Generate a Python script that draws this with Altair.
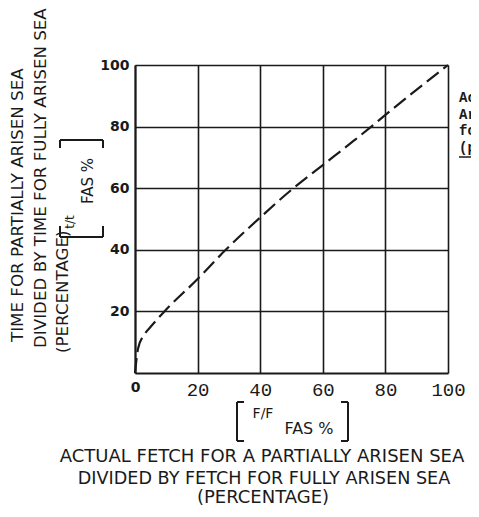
import altair as alt
import pandas as pd

# ---- data ----
fetch_pct = [0, 1, 3, 5, 9.4, 20, 28.5, 40, 50, 60, 70, 75.5, 80, 90, 100]
time_pct = [0, 8, 12.5, 15, 20, 30.5, 39.5, 50.5, 59.5, 67.5, 75.5, 80, 83.8, 92, 100]
x_ticks = [0, 20, 40, 60, 80, 100]
y_ticks = [20, 40, 60, 80, 100]
x_title = ["ACTUAL FETCH FOR A PARTIALLY ARISEN SEA",
           "DIVIDED BY FETCH FOR FULLY ARISEN SEA",
           "(PERCENTAGE)"]
y_title = ["TIME FOR PARTIALLY ARISEN SEA",
           "DIVIDED BY TIME FOR FULLY ARISEN SEA",
           "(PERCENTAGE)"]
side_text = ["Ac", "Ar", "fo", "(p"]

W, H = 313, 308
INK = "#1a1a1a"

df = pd.DataFrame({"F": fetch_pct, "T": time_pct})

curve = alt.Chart(df).mark_line(
    color=INK, strokeWidth=2.2, strokeDash=[15, 6], interpolate="monotone"
).encode(
    x=alt.X("F:Q", scale=alt.Scale(domain=[0, 100], nice=False),
            axis=alt.Axis(values=x_ticks, title=None, grid=True, gridColor=INK,
                          gridWidth=1.6, gridOpacity=1, ticks=False, domain=True,
                          domainColor=INK, domainWidth=2, labelFlush=False,
                          labelFont={"condition": {"test": "datum.value == 0", "value": "DejaVu Sans"},
                                     "value": "Liberation Mono"},
                          labelFontWeight={"condition": {"test": "datum.value == 0", "value": "bold"},
                                           "value": "normal"},
                          labelFontSize={"condition": {"test": "datum.value == 0", "value": 14},
                                         "value": 19},
                          labelColor=INK, labelPadding=7, labelBaseline="top")),
    y=alt.Y("T:Q", scale=alt.Scale(domain=[0, 100], nice=False),
            axis=alt.Axis(values=y_ticks, title=None, grid=True, gridColor=INK,
                          gridWidth=1.6, gridOpacity=1, ticks=False, domain=True,
                          domainColor=INK, domainWidth=2, labelFlush=False,
                          labelFont="DejaVu Sans", labelFontWeight="bold",
                          labelFontSize=14, labelColor=INK, labelPadding=6)),
)

one = alt.Data(values=[{}])


def txt(s, x, y, size, font="DejaVu Sans", angle=0, align="center", weight="normal"):
    kw = dict(text=s, fontSize=size, font=font, align=align, baseline="middle",
              fontWeight=weight, color=INK)
    if angle:
        kw["angle"] = angle
    return alt.Chart(one).mark_text(**kw).encode(x=alt.value(x), y=alt.value(y))


def seg(x1, y1, x2, y2, w=2):
    return alt.Chart(one).mark_rule(color=INK, strokeWidth=w).encode(
        x=alt.value(x1), y=alt.value(y1), x2=alt.value(x2), y2=alt.value(y2))


layers = [curve]

# x title lines
for line, xx, yy, fs in zip(x_title, [127, 129, 128], [392, 414, 433], [18, 17.6, 18]):
    layers.append(txt(line, xx, yy, fs))

# y title lines (rotated)
for line, xx, yy in zip(y_title, [-117, -94, -72], [277, 283, 288]):
    layers.append(txt(line, xx, yy, 16.7, angle=270, align="left"))

# x bracket label
layers += [
    seg(102, 337, 102, 376), seg(102, 337, 109, 337), seg(102, 376, 109, 376),
    seg(213, 337, 213, 376), seg(206, 337, 213, 337), seg(206, 376, 213, 376),
    txt("F/F", 128, 349, 14),
    txt("FAS %", 174, 364, 16),
]

# y bracket label
layers += [
    seg(-75, 75, -32, 75), seg(-75, 75, -75, 83), seg(-32, 75, -32, 83),
    seg(-75, 172, -32, 172), seg(-75, 172, -75, 161), seg(-32, 172, -32, 161),
    txt("t/t", -65, 157, 12, angle=270),
    txt("FAS %", -47, 116, 15, angle=270),
]

# side text, cropped at the right edge as in the reference
for s, yy in zip(side_text, [33, 50, 66, 83]):
    layers.append(txt(s, 324, yy, 14, font="Liberation Mono", align="left", weight="bold"))
layers.append(seg(324, 92, 340, 92, w=1.5))

chart = alt.layer(*layers).properties(
    width=W, height=H,
    autosize=alt.AutoSizeParams(type="none"),
    padding={"left": 127, "top": 57, "right": 23, "bottom": 135},
).configure_view(stroke=INK, strokeWidth=2).configure(background="white")

chart.save("out.html", embed_options={"renderer": "svg", "actions": False})
